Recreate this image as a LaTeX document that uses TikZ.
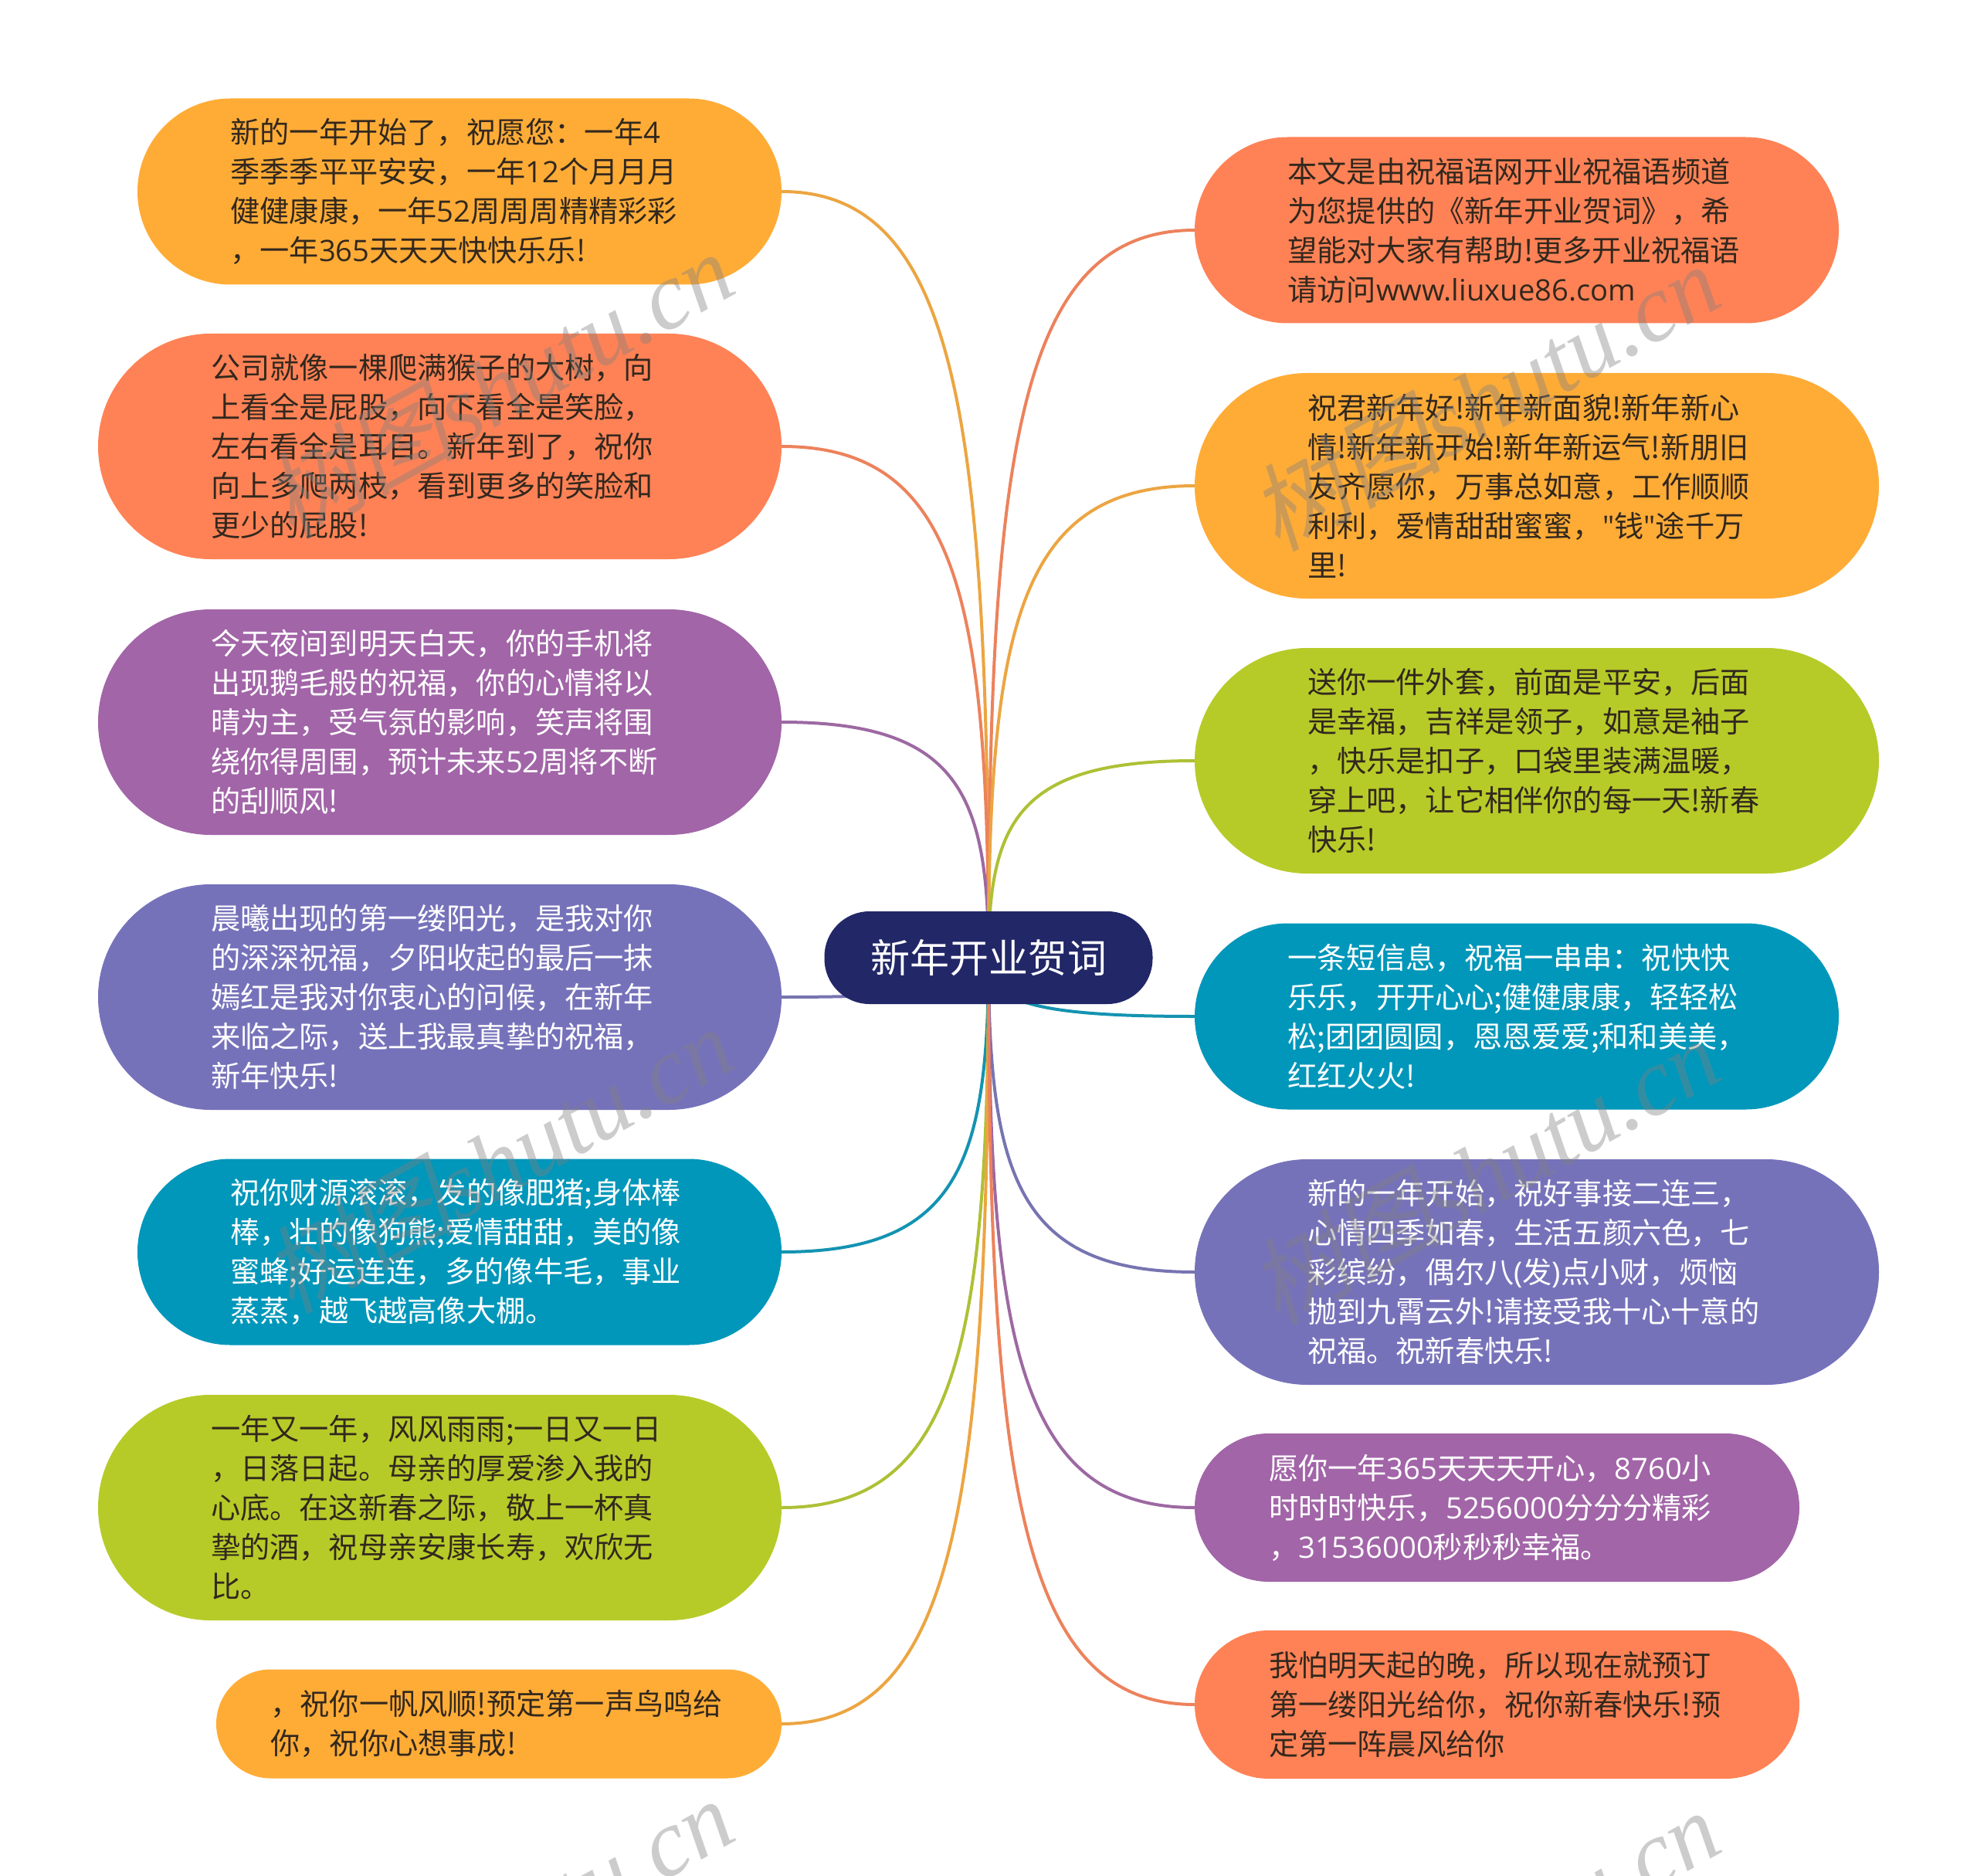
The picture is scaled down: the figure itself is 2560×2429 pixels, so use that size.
\documentclass[tikz,border=0pt]{standalone}
\usepackage{fontspec}
\setmainfont{Noto Sans CJK SC}
\newfontfamily\markfont[FakeSlant=0.2]{Noto Sans CJK SC}
\newfontfamily\marklatin{Liberation Serif}
\newfontfamily\latinfont{Open Sans}
\newcommand{\lat}[1]{{\latinfont #1}}
\usetikzlibrary{calc,backgrounds}
\definecolor{wishorange}{RGB}{255,172,55}
\definecolor{wishcoral}{RGB}{255,130,86}
\definecolor{wishpurple}{RGB}{162,101,168}
\definecolor{wishindigo}{RGB}{118,114,186}
\definecolor{wishteal}{RGB}{1,151,186}
\definecolor{wishgreen}{RGB}{182,203,40}
\definecolor{wishnavy}{RGB}{33,39,103}
\definecolor{wishink}{RGB}{50,40,30}
\tikzset{
  box/.style={draw=#1,line width=0.5pt,fill=#1,inner sep=0pt,align=left,font=\fontsize{19.1}{25.5}\selectfont},
  size/.style 2 args={minimum width=#1*0.5pt,minimum height=#2*0.5pt,text width=(#1-#2)*0.5pt,rounded corners=#2*0.25pt},
  darktext/.style={text=wishink},
  whitetext/.style={text=white},
  branch/.style={line width=2pt},
  watermark/.style={text=gray,opacity=0.4,rotate=29,anchor=west,font=\fontsize{62}{62}\selectfont}
}
\begin{document}
\begin{tikzpicture}[x=0.5pt,y=-0.5pt]
\useasboundingbox (0,0) rectangle (2560,2429);
% left side
\node (l1) [box=wishorange,size={833}{240},darktext,anchor=east] at (1012,248) {新的一年开始了，祝愿您：一年\lat{4}\\季季季平平安安，一年\lat{12}个月月月\\健健康康，一年\lat{52}周周周精精彩彩\\，一年\lat{365}天天天快快乐乐!};
\node (l2) [box=wishcoral,size={884}{291},darktext,anchor=east] at (1012,578) {公司就像一棵爬满猴子的大树，向\\上看全是屁股，向下看全是笑脸，\\左右看全是耳目。新年到了，祝你\\向上多爬两枝，看到更多的笑脸和\\更少的屁股!};
\node (l3) [box=wishpurple,size={884}{291},whitetext,anchor=east] at (1012,935) {今天夜间到明天白天，你的手机将\\出现鹅毛般的祝福，你的心情将以\\晴为主，受气氛的影响，笑声将围\\绕你得周围，预计未来\lat{52}周将不断\\的刮顺风!};
\node (l4) [box=wishindigo,size={884}{291},whitetext,anchor=east] at (1012,1291) {晨曦出现的第一缕阳光，是我对你\\的深深祝福，夕阳收起的最后一抹\\嫣红是我对你衷心的问候，在新年\\来临之际，送上我最真挚的祝福，\\新年快乐!};
\node (l5) [box=wishteal,size={833}{240},whitetext,anchor=east] at (1012,1621) {祝你财源滚滚，发的像肥猪;身体棒\\棒，壮的像狗熊;爱情甜甜，美的像\\蜜蜂;好运连连，多的像牛毛，事业\\蒸蒸，越飞越高像大棚。};
\node (l6) [box=wishgreen,size={884}{291},darktext,anchor=east] at (1012,1952) {一年又一年，风风雨雨;一日又一日\\，日落日起。母亲的厚爱渗入我的\\心底。在这新春之际，敬上一杯真\\挚的酒，祝母亲安康长寿，欢欣无\\比。};
\node (l7) [box=wishorange,size={731}{140},darktext,anchor=east] at (1012,2232) {，祝你一帆风顺!预定第一声鸟鸣给\\你，祝你心想事成!};
% right side
\node (r1) [box=wishcoral,size={833}{240},darktext,anchor=west] at (1547,298) {本文是由祝福语网开业祝福语频道\\为您提供的《新年开业贺词》，希\\望能对大家有帮助!更多开业祝福语\\请访问\lat{www.liuxue86.com}};
\node (r2) [box=wishorange,size={885}{291},darktext,anchor=west] at (1547,629) {祝君新年好!新年新面貌!新年新心\\情!新年新开始!新年新运气!新朋旧\\友齐愿你，万事总如意，工作顺顺\\利利，爱情甜甜蜜蜜，\lat{"}钱\lat{"}途千万\\里!};
\node (r3) [box=wishgreen,size={885}{291},darktext,anchor=west] at (1547,985) {送你一件外套，前面是平安，后面\\是幸福，吉祥是领子，如意是袖子\\，快乐是扣子，口袋里装满温暖，\\穿上吧，让它相伴你的每一天!新春\\快乐!};
\node (r4) [box=wishteal,size={833}{240},whitetext,anchor=west] at (1547,1316) {一条短信息，祝福一串串：祝快快\\乐乐，开开心心;健健康康，轻轻松\\松;团团圆圆，恩恩爱爱;和和美美，\\红红火火!};
\node (r5) [box=wishindigo,size={885}{291},whitetext,anchor=west] at (1547,1647) {新的一年开始，祝好事接二连三，\\心情四季如春，生活五颜六色，七\\彩缤纷，偶尔八\lat{(}发\lat{)}点小财，烦恼\\抛到九霄云外!请接受我十心十意的\\祝福。祝新春快乐!};
\node (r6) [box=wishpurple,size={782}{191},whitetext,anchor=west] at (1547,1952) {愿你一年\lat{365}天天天开心，\lat{8760}小\\时时时快乐，\lat{5256000}分分分精彩\\，\lat{31536000}秒秒秒幸福。};
\node (r7) [box=wishcoral,size={782}{191},darktext,anchor=west] at (1547,2207) {我怕明天起的晚，所以现在就预订\\第一缕阳光给你，祝你新春快乐!预\\定第一阵晨风给你};
\node (root) [box=wishnavy,minimum width=212pt,minimum height=59.5pt,rounded corners=29pt,whitetext,align=center,font=\fontsize{25.5}{30}\selectfont] at (1280,1240) {新年开业贺词};
\begin{scope}[on background layer]
\foreach \kid/\col in {l1.east/wishorange,l2.east/wishcoral,l3.east/wishpurple,l4.east/wishindigo,l5.east/wishteal,l6.east/wishgreen,l7.east/wishorange,r1.west/wishcoral,r2.west/wishorange,r3.west/wishgreen,r4.west/wishteal,r5.west/wishindigo,r6.west/wishpurple,r7.west/wishcoral}
  \draw [branch,\col!85!gray] (root.center) .. controls ($(root.center)!0.7!(root.center|-\kid)$) and ($(\kid)!0.85!(root.center|-\kid)$) .. (\kid);
\end{scope}
% repeated mark
\foreach \i/\x/\y in {1/348/662,2/1625/678,3/348/1665,4/1625/1680,5/348/2665,6/1625/2680}
  \node (mark\i) [watermark] at (\x,\y) {\markfont 树图\marklatin\itshape shutu.cn};
\end{tikzpicture}
\end{document}
